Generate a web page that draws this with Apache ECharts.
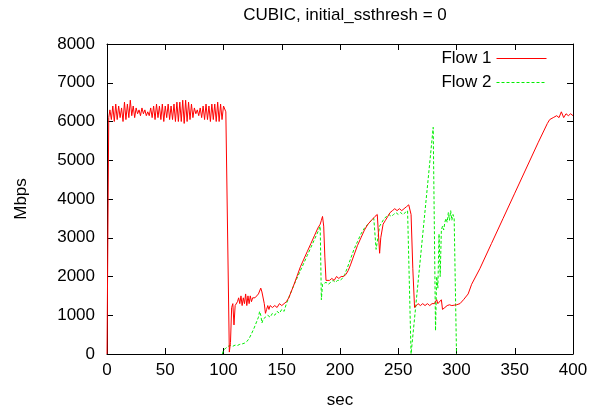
<!DOCTYPE html>
<html><head><meta charset="utf-8">
<script src="https://cdn.jsdelivr.net/npm/echarts@6/dist/echarts.min.js"></script>
<style>html,body{margin:0;padding:0;background:#fff}#c{width:596px;height:414px}</style>
</head><body><div id="c"></div>
<script>
var titleText = 'CUBIC, initial_ssthresh = 0';
var xTicks = [0, 50, 100, 150, 200, 250, 300, 350, 400];
var yTicks = [0, 1000, 2000, 3000, 4000, 5000, 6000, 7000, 8000];
var seriesNames = ['Flow 1', 'Flow 2'];

var flow1Sec = [0, 1.5, 2.5, 3.75, 5, 6.25, 7.5, 8.75, 10, 11.25, 12.5, 13.75, 15, 16.25, 17.5, 18.75, 20, 21.25, 22.5, 23.75, 25, 26.25, 27.5, 28.75, 30, 31.25, 32.5, 33.75, 35, 36.25, 37.5, 38.75, 40, 41.25, 42.5, 43.75, 45, 46.25, 47.5, 48.75, 50, 51.25, 52.5, 53.75, 55, 56.25, 57.5, 58.75, 60, 61.25, 62.5, 63.75, 65, 66.25, 67.5, 68.75, 70, 71.25, 72.5, 73.75, 75, 76.25, 77.5, 78.75, 80, 81.25, 82.5, 83.75, 85, 86.25, 87.5, 88.75, 90, 91.25, 92.5, 93.75, 95, 96.25, 97.5, 98.75, 100, 102, 105, 106, 107, 108, 109, 110, 111, 112, 113, 114, 115, 116, 117, 118, 119, 120, 121, 122, 123, 124, 125, 126, 127, 128, 130, 132, 133, 135, 136, 137, 138, 139, 140, 142, 144, 146, 148, 150, 152, 154, 156, 158, 160, 163, 166, 169, 172, 175, 178, 181, 183, 184, 185, 186, 187, 188, 189, 191, 193, 195, 197, 199, 201, 203, 205, 207, 209, 212, 215, 218, 221, 224, 227, 230, 232, 233, 234, 235, 237, 239, 241, 243, 245, 247, 249, 251, 253, 255, 257, 259, 260, 261, 262.5, 264, 265, 267, 269, 271, 273, 275, 277, 279, 281, 283, 284, 285, 287, 288, 290, 292, 294, 296, 298, 300, 303, 306, 310, 313, 320, 330, 340, 350, 360, 370, 378, 380, 383, 386, 388, 390, 392, 394, 396, 398, 400];
var flow1Mbps = [0, 6100, 6300, 6050, 6400, 6000, 6450, 6050, 6400, 6100, 6350, 6000, 6500, 6050, 6450, 6100, 6550, 6150, 6400, 6100, 6350, 6200, 6300, 6150, 6350, 6200, 6300, 6150, 6250, 6150, 6350, 6100, 6400, 6050, 6450, 6100, 6400, 6050, 6450, 6000, 6400, 6100, 6450, 6050, 6400, 6050, 6450, 6000, 6500, 6000, 6500, 6000, 6550, 5950, 6550, 6000, 6500, 6050, 6450, 6100, 6350, 6200, 6300, 6150, 6350, 6100, 6400, 6050, 6450, 6050, 6400, 6000, 6450, 6050, 6450, 6000, 6500, 6000, 6450, 6050, 6400, 6250, 50, 300, 1200, 1300, 750, 1250, 1300, 1350, 1450, 1300, 1500, 1250, 1450, 1300, 1550, 1250, 1500, 1300, 1500, 1350, 1450, 1400, 1450, 1480, 1550, 1700, 1600, 1300, 1050, 1150, 1250, 1150, 1250, 1200, 1250, 1200, 1300, 1250, 1300, 1350, 1450, 1600, 1750, 2000, 2250, 2450, 2650, 2850, 3050, 3250, 3350, 3450, 3550, 3300, 2500, 1900, 1850, 1900, 1950, 1900, 2000, 1950, 2000, 2000, 2050, 2150, 2300, 2550, 2800, 3000, 3200, 3350, 3450, 3550, 3600, 3650, 2600, 3000, 3350, 3450, 3550, 3650, 3700, 3750, 3700, 3750, 3700, 3750, 3800, 3850, 3900, 3600, 2200, 1200, 1250, 1300, 1250, 1300, 1250, 1300, 1250, 1300, 1300, 1400, 1300, 1280, 1400, 1150, 1200, 1250, 1270, 1250, 1260, 1270, 1300, 1400, 1550, 1800, 2200, 2850, 3500, 4150, 4800, 5450, 5950, 6050, 6100, 6150, 6100, 6250, 6100, 6200, 6150, 6200, 6150];

var flow2Sec = [99, 100, 102, 104, 106, 108, 110, 112, 114, 116, 118, 120, 122, 124, 126, 128, 130, 131, 132, 133, 134, 136, 138, 140, 142, 144, 146, 148, 150, 152, 154, 156, 158, 160, 163, 166, 169, 172, 175, 178, 181, 183, 184, 185, 186, 188, 190, 192, 194, 196, 198, 200, 202, 204, 206, 209, 212, 215, 218, 221, 224, 227, 229, 230, 231, 232, 234, 236, 238, 240, 242, 244, 246, 248, 250, 252, 254, 256, 258, 259, 261, 262, 280, 282, 283, 284, 285, 286, 287, 288, 289, 290, 291, 292, 293, 294, 295, 296, 297, 298, 299, 300];
var flow2Mbps = [0, 100, 150, 200, 220, 200, 230, 220, 250, 260, 280, 320, 400, 520, 650, 800, 950, 1100, 1000, 800, 900, 950, 1000, 950, 1050, 1000, 1100, 1050, 1150, 1100, 1300, 1450, 1600, 1750, 1950, 2150, 2350, 2550, 2750, 2950, 3150, 3300, 1400, 1800, 1750, 1850, 1800, 1850, 1900, 1850, 1900, 1900, 1950, 2050, 2200, 2450, 2700, 2900, 3100, 3250, 3350, 3450, 3500, 3550, 2700, 2900, 3300, 3400, 3500, 3550, 3600, 3550, 3600, 3650, 3600, 3650, 3600, 3650, 3700, 3650, 0, 0, 5850, 600, 2000, 1700, 3100, 2000, 3200, 3300, 3200, 3400, 3500, 3400, 3650, 3450, 3700, 3450, 3600, 3500, 3550, 0];

function pairs(a, b) { var r = []; for (var i = 0; i < a.length; i++) r.push([a[i], b[i]]); return r; }

var FONT = 'Liberation Sans, Arial, sans-serif';
var FS = 17;
var chart = echarts.init(document.getElementById('c'), null, {renderer: 'canvas'});
var axLine = {show: true, onZero: false, lineStyle: {color: '#000', width: 1}};
var axTick = {show: true, inside: true, length: 6, lineStyle: {color: '#000'}};
chart.setOption({
  animation: false,
  backgroundColor: '#fff',
  title: {text: titleText, left: 340, top: 2, textAlign: 'center',
    textStyle: {fontFamily: FONT, fontSize: FS, fontWeight: 'normal', color: '#000'}},
  legend: {
    data: seriesNames, orient: 'vertical', right: 44, top: 45, align: 'right',
    itemWidth: 50, itemHeight: 14, itemGap: 7,
    itemStyle: {opacity: 0},
    lineStyle: {width: 1},
    textStyle: {fontFamily: FONT, fontSize: FS, color: '#000'}
  },
  grid: {left: 107, right: 23, top: 44, bottom: 58},
  xAxis: [
    {type: 'value', position: 'bottom', min: xTicks[0], max: xTicks[xTicks.length - 1], interval: 50,
      name: 'sec', nameLocation: 'middle', nameGap: 38,
      nameTextStyle: {fontFamily: FONT, fontSize: FS, color: '#000'},
      axisLine: axLine, axisTick: axTick, splitLine: {show: false},
      axisLabel: {fontFamily: FONT, fontSize: FS, color: '#000', margin: 8}},
    {type: 'value', position: 'top', min: xTicks[0], max: xTicks[xTicks.length - 1], interval: 50,
      axisLine: axLine, axisTick: axTick, splitLine: {show: false},
      axisLabel: {show: false}}
  ],
  yAxis: [
    {type: 'value', position: 'left', min: yTicks[0], max: yTicks[yTicks.length - 1], interval: 1000,
      name: 'Mbps', nameLocation: 'middle', nameGap: 77, nameRotate: 90,
      nameTextStyle: {fontFamily: FONT, fontSize: FS, color: '#000'},
      axisLine: axLine, axisTick: axTick, splitLine: {show: false},
      axisLabel: {fontFamily: FONT, fontSize: FS, color: '#000', margin: 12,
        formatter: function (v) { return String(v); }}},
    {type: 'value', position: 'right', min: yTicks[0], max: yTicks[yTicks.length - 1], interval: 1000,
      axisLine: axLine, axisTick: axTick, splitLine: {show: false},
      axisLabel: {show: false}}
  ],
  series: [
    {name: seriesNames[0], type: 'line', data: pairs(flow1Sec, flow1Mbps), showSymbol: false, symbol: 'none',
      color: '#ff0000', lineStyle: {color: '#ff0000', width: 1}, z: 3},
    {name: seriesNames[1], type: 'line', data: pairs(flow2Sec, flow2Mbps), showSymbol: false, symbol: 'none',
      color: '#00ee00', lineStyle: {color: '#00ee00', width: 1, type: [3, 2]}, z: 2}
  ]
});
</script></body></html>
